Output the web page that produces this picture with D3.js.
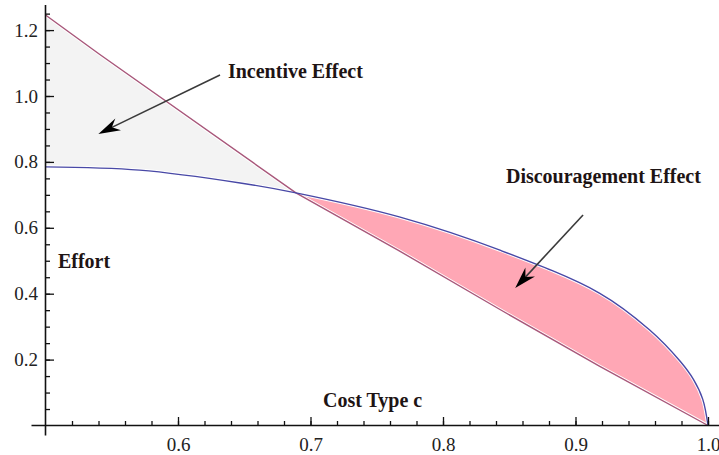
<!DOCTYPE html>
<html>
<head>
<meta charset="utf-8">
<script src="https://d3js.org/d3.v7.min.js"></script>
<style>
  body { margin: 0; background: #fff; }
  svg { display: block; }
  .tick text { font-family: "Liberation Serif", "Times New Roman", serif; font-size: 19px; fill: #222; }
  .note { font-family: "Liberation Serif", "Times New Roman", serif; font-size: 20px; font-weight: bold; fill: #1e1414; }
</style>
</head>
<body>
<div id="chart"></div>
<script>
// values (cost type c, effort)
const costRed = [0.5, 0.541, 0.689, 0.767, 0.843, 0.918, 1.0];
const effortRed = [1.246, 1.126, 0.706, 0.530, 0.352, 0.180, 0.0];

const costBlue = [0.5, 0.571, 0.647, 0.689, 0.767, 0.843, 0.918, 0.956, 0.979, 0.989, 0.996, 1.0];
const effortBlue = [0.785, 0.775, 0.736, 0.706, 0.633, 0.532, 0.402, 0.290, 0.195, 0.140, 0.080, 0.0];

// index of the crossing point in each series
const crossRed = 2;
const crossBlue = 3;

const xMajor = [0.6, 0.7, 0.8, 0.9, 1.0];
const xMinor = d3.range(26).map(function(i) { return +(0.5 + i * 0.02).toFixed(2); }).filter(function(v) { return v > 0.5; });
const yMajor = [0.2, 0.4, 0.6, 0.8, 1.0, 1.2];
const yMinor = d3.range(1, 26).map(function(i) { return +(i * 0.05).toFixed(2); });

// annotations, in data units
const labels = [
    { text: 'Incentive Effect', c: 0.6377, e: 1.055 },
    { text: 'Discouragement Effect', c: 0.8475, e: 0.736 },
    { text: 'Effort', c: 0.5094, e: 0.478 },
    { text: 'Cost Type c', c: 0.7094, e: 0.056 }
];
const arrows = [
    { from: [0.6317, 1.064], to: [0.5399, 0.885] },
    { from: [0.9057, 0.639], to: [0.8545, 0.417] }
];

const width = 719;
const height = 455;

const svg = d3.select('#chart').append('svg')
    .attr('width', width)
    .attr('height', height);

const x = d3.scaleLinear().domain([0.5, 1.0]).range([45.5, 708]);
const y = d3.scaleLinear().domain([0, 1]).range([425.5, 96]);

const red = costRed.map(function(c, i) { return [c, effortRed[i]]; });
const blue = costBlue.map(function(c, i) { return [c, effortBlue[i]]; });

const redLine = d3.line()
    .x(function(d) { return x(d[0]); })
    .y(function(d) { return y(d[1]); });
const blueLine = d3.line()
    .x(function(d) { return x(d[0]); })
    .y(function(d) { return y(d[1]); })
    .curve(d3.curveCatmullRom.alpha(0.5));

// join a blue run and a reversed red run into one closed shape
function region(bluePts, redPts) {
    let back = redLine(redPts.slice().reverse());
    return blueLine(bluePts) + 'L' + back.slice(1) + 'Z';
}

svg.append('path')
    .attr('d', region(blue.slice(0, crossBlue + 1), red.slice(0, crossRed + 1)))
    .attr('fill', '#f3f3f3');
svg.append('path')
    .attr('d', region(blue.slice(crossBlue), red.slice(crossRed)))
    .attr('fill', '#ffa7b5');

// white halo under the curves, like the original render
svg.append('path').attr('d', redLine(red))
    .attr('fill', 'none').attr('stroke', '#fff').attr('stroke-width', 3.2);
svg.append('path').attr('d', blueLine(blue))
    .attr('fill', 'none').attr('stroke', '#fff').attr('stroke-width', 3.2);
svg.append('path').attr('d', redLine(red))
    .attr('fill', 'none').attr('stroke', '#a8577a').attr('stroke-width', 1.4);
svg.append('path').attr('d', blueLine(blue))
    .attr('fill', 'none').attr('stroke', '#4848a6').attr('stroke-width', 1.4);

// arrows
arrows.forEach(function(a) {
    let x0 = x(a.from[0]), y0 = y(a.from[1]);
    let x1 = x(a.to[0]), y1 = y(a.to[1]);
    let ang = Math.atan2(y1 - y0, x1 - x0);
    let len = 22, half = 6.5, notch = 15;
    function pt(back, side) {
        return [x1 - back * Math.cos(ang) - side * Math.sin(ang),
                y1 - back * Math.sin(ang) + side * Math.cos(ang)];
    }
    svg.append('line')
        .attr('x1', x0).attr('y1', y0)
        .attr('x2', pt(notch, 0)[0]).attr('y2', pt(notch, 0)[1])
        .attr('stroke', '#3a3a3a').attr('stroke-width', 1.6);
    svg.append('path')
        .attr('d', 'M' + [[x1, y1], pt(len, half), pt(notch, 0), pt(len, -half)].join('L') + 'Z')
        .attr('fill', '#000');
});

svg.selectAll('text.note')
    .data(labels)
    .enter().append('text')
        .attr('class', 'note')
        .attr('x', function(d) { return x(d.c); })
        .attr('y', function(d) { return y(d.e); })
        .text(function(d) { return d.text; });

// axes: ticks point inward, labels outside
const xAxis = svg.append('g').attr('transform', 'translate(0,' + y(0) + ')');
xAxis.call(d3.axisBottom(x).tickValues(xMinor).tickSizeInner(-4.5).tickSizeOuter(0).tickFormat(''));
xAxis.call(function(g) { g.select('.domain').remove(); });
const xAxisMajor = svg.append('g').attr('transform', 'translate(0,' + y(0) + ')');
xAxisMajor.call(d3.axisBottom(x).tickValues(xMajor).tickSizeInner(-8.5).tickSizeOuter(0)
    .tickPadding(12).tickFormat(d3.format('.1f')));
xAxisMajor.call(function(g) { g.select('.domain').remove(); });

const yAxis = svg.append('g').attr('transform', 'translate(' + x(0.5) + ',0)');
yAxis.call(d3.axisLeft(y).tickValues(yMinor).tickSizeInner(-4.5).tickSizeOuter(0).tickFormat(''));
yAxis.call(function(g) { g.select('.domain').remove(); });
const yAxisMajor = svg.append('g').attr('transform', 'translate(' + x(0.5) + ',0)');
yAxisMajor.call(d3.axisLeft(y).tickValues(yMajor).tickSizeInner(-8.5).tickSizeOuter(0)
    .tickPadding(7.5).tickFormat(d3.format('.1f')));
yAxisMajor.call(function(g) { g.select('.domain').remove(); });

svg.selectAll('.tick line').attr('stroke', '#111').attr('stroke-width', 1.3);

// axis lines run a little past the origin
svg.append('line')
    .attr('x1', x(0.5) - 14).attr('x2', width)
    .attr('y1', y(0)).attr('y2', y(0))
    .attr('stroke', '#111').attr('stroke-width', 1.6);
svg.append('line')
    .attr('x1', x(0.5)).attr('x2', x(0.5))
    .attr('y1', 5).attr('y2', y(0) + 10)
    .attr('stroke', '#111').attr('stroke-width', 1.6);
</script>
</body>
</html>
